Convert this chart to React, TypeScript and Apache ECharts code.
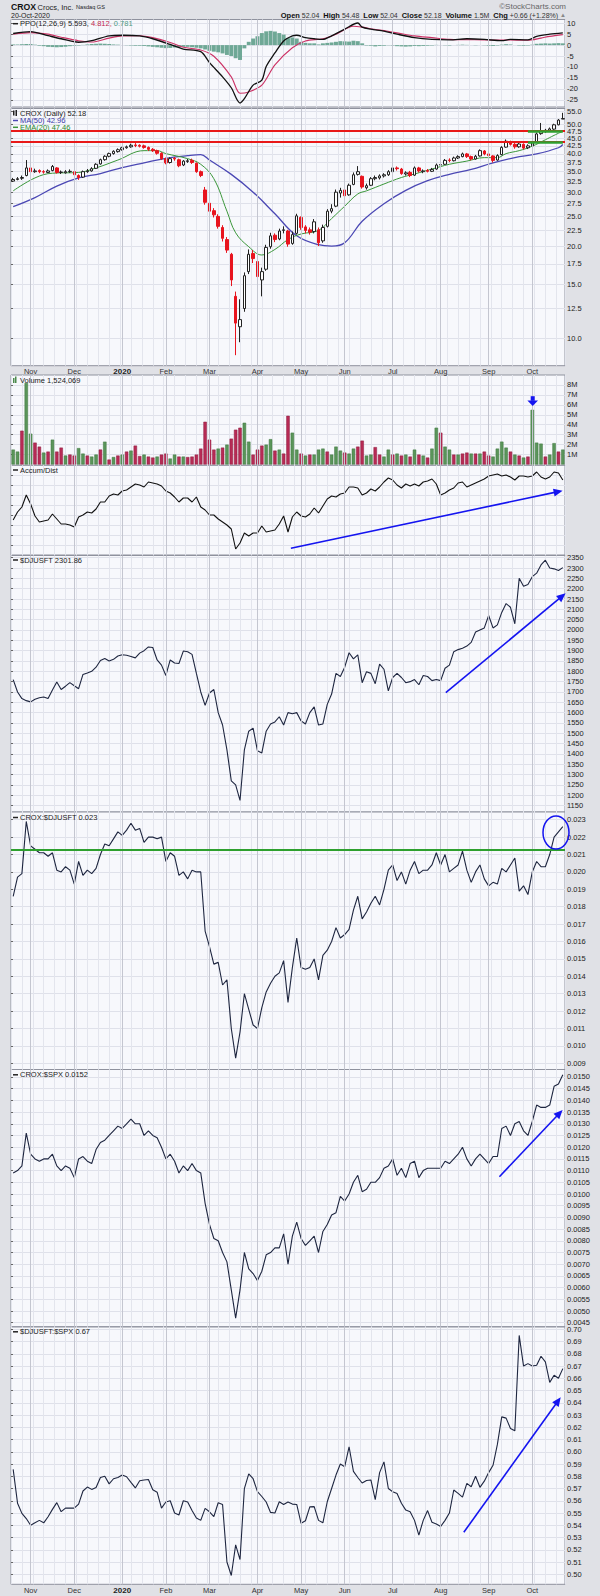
import React, { useEffect, useRef } from "react";
import * as echarts from "echarts";

// ---------- categories (two trading days per bin, 21-Oct-2019 .. 20-Oct-2020) ----------
const binCount = 127;
const categories = Array.from({ length: binCount }, (_, i) => String(i));
const monthTicks: [number, string][] = [
  [4, "Nov"], [14, "Dec"], [25, "2020"], [35, "Feb"], [45, "Mar"], [56, "Apr"],
  [66, "May"], [76, "Jun"], [87, "Jul"], [98, "Aug"], [109, "Sep"], [119, "Oct"],
];

// ---------- PPO(12,26,9) ----------
const ppoPts: [number, number][] = [
  [0, 5.3], [4, 6.2], [8, 4.3], [11, 2.9], [15, 1.3], [18, 2.0], [22, 4.2], [25, 4.5], [29, 4.2], [32, 2.9],
  [36, 0.3], [39, -1.8], [43, -3.0], [45, -8.0], [48, -14.5], [50, -19.5], [52, -26.5], [53, -24.5], [55, -18.3],
  [57, -16.0], [58, -9.8], [60, -3.6], [62, 1.9], [64, 4.2], [65, 4.5], [67, 3.4], [69, 2.9], [71, 2.6], [73, 4.2],
  [76, 7.3], [79, 10.1], [80, 8.2], [82, 7.3], [85, 6.4], [88, 5.0], [92, 3.4], [96, 2.6], [100, 2.4], [104, 2.9],
  [108, 2.6], [112, 2.0], [114, 2.6], [118, 2.4], [120, 4.0], [123, 5.0], [126, 5.6],
];
const signalPts: [number, number][] = [
  [0, 5.0], [4, 5.7], [8, 5.0], [11, 3.6], [15, 2.0], [18, 1.4], [22, 3.2], [25, 4.2], [29, 4.3], [32, 3.4],
  [36, 1.2], [39, -1.0], [43, -2.2], [46, -5.1], [50, -14.5], [52, -22.0], [54, -21.4], [57, -18.3], [60, -9.0],
  [64, -1.2], [67, 1.9], [71, 2.9], [74, 5.0], [78, 8.6], [80, 8.2], [82, 7.5], [85, 6.6], [88, 5.6], [92, 4.2],
  [96, 3.4], [100, 2.6], [108, 2.4], [114, 2.3], [118, 2.2], [121, 3.2], [123, 4.0], [126, 4.8],
];
const ppoHist = [
  0.3, 0.3, 0.4, 0.5, 0.5, 0.2, -0.3, -0.5, -0.8, -0.9,
  -1.0, -0.9, -0.7, -0.5, -0.3, -0.2, 0.1, 0.3, 0.5, 0.6,
  0.7, 0.6, 0.5, 0.3, 0.2, 0.0, -0.1, -0.2, -0.3, -0.3,
  -0.4, -0.6, -0.8, -1.0, -1.2, -1.4, -1.3, -1.1, -0.9, -0.8,
  -0.8, -1.0, -1.2, -1.5, -2.0, -2.6, -3.0, -3.3, -3.8, -4.5,
  -5.0, -6.0, -6.8, -1.5, 1.5, 3.0, 4.0, 5.5, 6.3, 6.5,
  6.2, 5.5, 4.8, 3.2, 3.5, 3.0, 1.5, 1.0, 0.8, 0.8,
  0.3, 0.8, 1.0, 1.2, 1.5, 1.8, 1.7, 1.6, 2.0, 1.8,
  0.8, -0.2, -0.3, -0.6, -0.4, -0.3, -0.1, -0.2, -0.5, -0.6,
  -0.7, -0.6, -0.4, -0.5, -0.4, -0.3, -0.2, 0.1, 0.0, -0.1,
  -0.2, 0.0, 0.1, 0.2, 0.1, 0.0, -0.1, 0.0, -0.1, -0.3,
  -0.4, -0.2, 0.2, 0.4, 0.3, 0.0, -0.2, -0.3, -0.2, 0.2,
  0.6, 0.7, 0.8, 0.7, 0.8, 0.9, 0.8,
];

// ---------- CROX price: [open, close, low, high] ----------
const priceOHLC = [
  [32.6, 33.0, 32.4, 33.4], [33.0, 33.2, 32.8, 33.6], [33.3, 33.5, 32.9, 34.0], [34.0, 36.0, 33.8, 38.2], [36.0, 35.0, 34.6, 36.4],
  [35.0, 35.2, 34.7, 35.8], [35.3, 35.0, 34.6, 35.6], [35.0, 34.9, 34.5, 35.4], [34.8, 35.2, 34.6, 35.6], [35.3, 36.4, 35.1, 36.8],
  [36.0, 34.8, 34.5, 36.2], [34.8, 34.9, 34.4, 35.3], [34.7, 35.0, 34.5, 35.4], [35.0, 35.1, 34.7, 35.6], [35.0, 34.2, 33.9, 35.2],
  [34.0, 33.5, 32.9, 34.3], [33.6, 35.0, 33.4, 35.3], [35.0, 35.2, 34.7, 35.7], [35.2, 35.8, 35.0, 36.2], [35.9, 37.0, 35.7, 37.3],
  [37.1, 38.3, 36.9, 38.6], [38.3, 39.3, 38.0, 39.6], [39.3, 40.1, 39.0, 40.4], [40.1, 40.8, 39.8, 41.1], [40.7, 41.3, 40.4, 41.7],
  [41.3, 41.9, 41.0, 42.2], [41.9, 42.2, 41.6, 42.6], [42.2, 42.7, 41.9, 43.2], [42.8, 42.6, 42.1, 43.4], [42.7, 42.4, 42.0, 43.0],
  [42.5, 42.0, 41.6, 42.9], [42.0, 41.4, 40.9, 42.3], [41.4, 41.0, 40.6, 41.8], [41.0, 40.2, 39.8, 41.3], [40.2, 38.6, 38.2, 40.5],
  [38.6, 37.4, 37.0, 38.9], [37.5, 38.6, 37.2, 39.0], [38.7, 38.5, 38.0, 39.1], [38.3, 36.6, 36.2, 38.6], [36.8, 37.9, 36.5, 38.2],
  [37.8, 38.0, 37.4, 38.5], [38.1, 37.5, 37.1, 38.6], [37.3, 35.0, 34.7, 37.5], [35.0, 34.0, 33.6, 35.3], [30.5, 27.8, 27.3, 31.2],
  [27.6, 26.0, 25.6, 28.2], [26.1, 25.3, 24.8, 26.6], [25.0, 23.2, 22.8, 25.4], [23.0, 21.2, 20.7, 23.4], [21.0, 19.4, 19.0, 21.4],
  [18.8, 15.5, 14.8, 19.0], [13.7, 11.2, 8.8, 14.2], [10.9, 11.5, 9.7, 13.4], [12.5, 16.0, 12.2, 16.4], [16.5, 18.8, 16.2, 19.5],
  [18.9, 18.2, 17.6, 19.4], [17.8, 15.9, 15.5, 18.2], [15.5, 16.5, 13.7, 17.0], [16.8, 19.8, 16.6, 20.2], [19.9, 21.6, 19.6, 22.1],
  [21.7, 21.0, 20.6, 22.0], [21.1, 22.4, 20.9, 22.8], [22.5, 22.6, 22.0, 23.2], [22.4, 20.3, 19.9, 22.6], [20.4, 21.8, 20.2, 22.3],
  [22.0, 25.1, 21.8, 25.5], [24.8, 23.0, 22.6, 25.0], [23.1, 22.5, 22.0, 23.4], [22.6, 22.2, 21.8, 23.0], [22.3, 24.0, 22.0, 24.5],
  [22.6, 20.5, 20.0, 23.0], [20.8, 23.0, 20.5, 23.5], [23.2, 26.0, 23.0, 26.4], [26.0, 26.5, 25.6, 27.4], [27.0, 30.0, 26.8, 30.6],
  [29.8, 30.4, 28.8, 31.0], [30.5, 29.2, 28.5, 30.8], [29.4, 31.6, 29.2, 32.0], [31.8, 34.2, 31.6, 34.8], [34.3, 35.0, 34.0, 36.5],
  [33.8, 31.2, 30.8, 34.0], [31.0, 31.5, 30.6, 32.0], [31.6, 33.2, 31.4, 33.6], [33.2, 33.5, 32.8, 34.0], [33.4, 33.9, 33.0, 34.3],
  [33.9, 34.2, 33.5, 34.6], [34.2, 35.0, 33.9, 35.4], [35.0, 36.0, 34.8, 36.6], [36.0, 35.8, 35.3, 36.4], [35.7, 34.5, 34.2, 36.0],
  [34.4, 34.7, 34.0, 35.1], [34.8, 34.0, 33.6, 35.2], [34.1, 36.0, 33.9, 36.4], [36.0, 35.2, 34.8, 36.3], [35.0, 35.2, 34.6, 35.6],
  [35.3, 35.1, 34.8, 35.7], [35.1, 35.6, 34.9, 36.0], [35.7, 36.8, 35.5, 37.2], [36.8, 36.9, 36.3, 37.6], [37.0, 38.1, 36.8, 38.5],
  [38.2, 38.1, 37.6, 38.7], [38.0, 38.8, 37.8, 39.2], [38.8, 39.2, 38.5, 39.6], [39.2, 40.0, 39.0, 40.4], [40.0, 39.2, 38.8, 40.3],
  [39.2, 38.5, 38.1, 39.5], [38.5, 39.3, 38.3, 39.7], [39.4, 41.0, 39.2, 41.4], [40.9, 40.0, 39.6, 41.2], [40.0, 39.5, 39.1, 40.3],
  [39.4, 38.1, 37.5, 39.6], [38.2, 39.5, 38.0, 39.9], [39.8, 42.0, 39.6, 42.4], [42.1, 44.0, 41.9, 44.6], [43.9, 43.0, 42.6, 44.2],
  [43.0, 42.2, 41.6, 43.4], [42.2, 43.1, 41.9, 43.8], [43.0, 41.8, 41.4, 43.3], [41.9, 42.5, 41.5, 43.0], [42.5, 43.5, 42.2, 44.0],
  [43.6, 46.5, 43.4, 47.0], [46.6, 47.4, 46.2, 50.5], [47.3, 47.8, 46.9, 48.3], [47.8, 48.3, 47.4, 48.8], [48.2, 49.8, 47.9, 50.2],
  [49.8, 51.6, 49.6, 52.0], [52.0, 52.2, 52.0, 54.5],
];
const ma50Pts: [number, number][] = [
  [0, 26.9], [5, 28.8], [10, 31.4], [15, 33.4], [20, 34.5], [25, 36.1], [30, 37.4], [35, 38.7], [40, 39.5], [43, 39.8],
  [45, 38.2], [50, 34.3], [55, 30.0], [60, 25.5], [65, 21.6], [70, 20.2], [73, 20.0], [76, 20.5], [80, 24.1], [85, 27.5],
  [90, 30.4], [95, 32.7], [100, 34.3], [105, 35.6], [110, 37.4], [115, 38.9], [120, 40.0], [125, 41.9], [126, 42.96],
];
const ema20Pts: [number, number][] = [
  [0, 30.3], [5, 33.4], [9, 34.6], [15, 34.8], [19, 36.0], [24, 38.2], [30, 41.0], [33, 41.0], [35, 40.1], [40, 38.6],
  [43, 37.0], [46, 33.2], [49, 26.0], [51, 22.1], [54, 19.9], [57, 18.7], [60, 19.5], [63, 21.0], [66, 21.9], [70, 22.5],
  [73, 24.6], [76, 27.0], [79, 29.6], [81, 30.3], [85, 31.9], [89, 33.5], [92, 34.4], [96, 35.7], [100, 37.0], [104, 37.9],
  [108, 38.9], [111, 38.9], [113, 40.1], [116, 41.0], [119, 42.4], [122, 44.5], [124, 46.0], [126, 47.46],
];
const resistanceLevels = [47.6, 43.8];

// ---------- Volume (millions) and up/down flag ----------
const volumeM = [
  1.5, 1.3, 3.4, 8.2, 3.1, 2.2, 1.8, 1.2, 1.3, 2.5,
  1.3, 1.7, 0.9, 1.0, 0.9, 1.65, 1.1, 0.9, 0.8, 1.0,
  1.5, 2.3, 0.5, 0.75, 0.9, 1.0, 1.3, 1.4, 1.9, 0.85,
  1.0, 0.8, 0.7, 0.8, 1.0, 1.1, 0.6, 1.0, 0.8, 0.8,
  0.75, 0.8, 1.0, 1.6, 4.3, 2.5, 1.5, 1.6, 1.7, 2.0,
  2.6, 3.5, 3.7, 4.2, 2.3, 1.0, 1.5, 1.9, 2.0, 2.55,
  1.4, 1.5, 1.1, 4.9, 3.2, 1.5, 1.1, 0.9, 1.0, 1.0,
  1.5, 1.6, 1.3, 1.0, 1.8, 1.4, 1.2, 1.1, 1.6, 1.8,
  2.4, 0.9, 1.0, 1.75, 1.0, 0.8, 1.5, 1.0, 1.1, 0.9,
  1.0, 0.8, 1.5, 1.0, 0.9, 0.7, 1.6, 3.7, 3.2, 1.8,
  1.5, 1.0, 1.0, 1.1, 1.2, 1.1, 1.1, 1.1, 1.3, 0.9,
  0.8, 1.6, 2.3, 1.7, 1.3, 1.0, 0.9, 0.7, 0.8, 5.5,
  2.2, 2.1, 0.8, 1.0, 2.15, 1.3, 1.5,
];
const volumeUp = [
  1, 1, 0, 1, 1, 0, 0, 1, 0, 1,
  0, 0, 1, 0, 0, 1, 1, 0, 1, 1,
  0, 1, 0, 1, 0, 1, 0, 1, 0, 0,
  1, 0, 0, 1, 0, 0, 1, 1, 0, 1,
  0, 0, 0, 0, 0, 0, 0, 1, 0, 1,
  0, 0, 0, 1, 1, 0, 0, 0, 1, 1,
  0, 1, 0, 0, 1, 1, 0, 1, 0, 1,
  1, 1, 0, 1, 1, 1, 0, 1, 1, 0,
  0, 1, 1, 0, 0, 1, 1, 0, 1, 0,
  1, 0, 1, 0, 1, 0, 1, 1, 0, 1,
  1, 0, 1, 0, 0, 1, 0, 1, 0, 0,
  1, 1, 1, 1, 0, 1, 0, 1, 0, 1,
  1, 1, 0, 1, 1, 0, 1,
];

// ---------- Accumulation / Distribution (relative units) ----------
const accumDist = [
  35, 43, 48, 60, 51, 39, 33, 34, 35, 41,
  36, 31, 31, 30, 28, 38, 40, 43, 42, 46,
  53, 53, 59, 61, 60, 64, 65, 68, 71, 70,
  68, 73, 72, 71, 69, 64, 62, 58, 53, 57,
  57, 53, 58, 48, 45, 40, 40, 36, 33, 30,
  26, 6, 12, 22, 19, 22, 22, 29, 23, 24,
  25, 31, 39, 23, 38, 43, 39, 38, 41, 47,
  42, 49, 56, 59, 58, 61, 62, 68, 68, 67,
  60, 62, 66, 64, 68, 73, 77, 75, 70, 67,
  71, 69, 71, 69, 73, 74, 76, 71, 60, 62,
  65, 67, 72, 73, 68, 70, 72, 74, 76, 79,
  80, 81, 79, 80, 78, 75, 79, 79, 78, 79,
  83, 78, 76, 78, 83, 82, 75,
];

// ---------- $DJUSFT ----------
const djusft = [
  1760, 1700, 1668, 1658, 1652, 1665, 1672, 1676, 1668, 1710,
  1748, 1712, 1728, 1745, 1730, 1716, 1785, 1792, 1800, 1820,
  1852, 1862, 1850, 1858, 1874, 1880, 1878, 1872, 1865, 1888,
  1900, 1918, 1915, 1855, 1830, 1780, 1855, 1840, 1838, 1898,
  1895, 1882, 1790, 1700, 1635, 1695, 1712, 1600, 1540, 1420,
  1270, 1250, 1175, 1420, 1510, 1525, 1415, 1405, 1510, 1545,
  1555, 1580, 1540, 1600, 1595, 1600, 1560, 1545, 1600, 1628,
  1540, 1545, 1640, 1690, 1790, 1775, 1820, 1890, 1860, 1880,
  1745, 1798, 1790, 1740, 1835, 1810, 1705, 1770, 1790, 1770,
  1745, 1750, 1760, 1735, 1780, 1775, 1755, 1760, 1755, 1815,
  1830, 1895, 1905, 1912, 1922, 1940, 1990, 2000, 2010, 2070,
  2010, 2025, 2085, 2128, 2110, 2030, 2250, 2212, 2220, 2258,
  2275, 2315, 2338, 2300, 2296, 2288, 2302,
];

// ---------- CROX:$DJUSFT ----------
const croxDjusft = [
  0.0186, 0.0197, 0.0199, 0.0229, 0.0215, 0.0213, 0.0211, 0.0211, 0.0209, 0.0211,
  0.0201, 0.0200, 0.0203, 0.0201, 0.0193, 0.0206, 0.0198, 0.0201, 0.0199, 0.0202,
  0.0210, 0.0216, 0.0215, 0.0219, 0.0223, 0.0221, 0.0224, 0.0228, 0.0224, 0.0225,
  0.0217, 0.0220, 0.0220, 0.0219, 0.0220, 0.0206, 0.0211, 0.0209, 0.0198, 0.0200,
  0.0196, 0.0201, 0.0200, 0.0200, 0.0166, 0.0157, 0.0147, 0.0148, 0.0135, 0.0138,
  0.0110, 0.0093, 0.0108, 0.0130, 0.0121, 0.0112, 0.0110, 0.0122, 0.0131, 0.0136,
  0.0140, 0.0142, 0.0149, 0.0125, 0.0145, 0.0162, 0.0145, 0.0144, 0.0145, 0.0150,
  0.0138, 0.0152, 0.0155, 0.0160, 0.0168, 0.0162, 0.0164, 0.0167, 0.0178, 0.0186,
  0.0173, 0.0177, 0.0182, 0.0186, 0.0181, 0.0190, 0.0201, 0.0204, 0.0195, 0.0200,
  0.0193, 0.0201, 0.0206, 0.0199, 0.0201, 0.0201, 0.0204, 0.0211, 0.0204, 0.0210,
  0.0200, 0.0202, 0.0204, 0.0212, 0.0201, 0.0194, 0.0200, 0.0204, 0.0196, 0.0192,
  0.0194, 0.0193, 0.0202, 0.0200, 0.0204, 0.0208, 0.0189, 0.0192, 0.0187, 0.0200,
  0.0206, 0.0203, 0.0203, 0.0210, 0.0220, 0.0223, 0.0226,
];
const croxDjusftLevel = 0.0213;

// ---------- CROX:$SPX ----------
const croxSpx = [
  0.0109, 0.0110, 0.0112, 0.0126, 0.0117, 0.0115, 0.0114, 0.0115, 0.0115, 0.0117,
  0.0112, 0.0110, 0.0112, 0.0111, 0.0107, 0.0115, 0.0116, 0.0114, 0.0113, 0.0119,
  0.0122, 0.0123, 0.0125, 0.0127, 0.0129, 0.0128, 0.0130, 0.0132, 0.0130, 0.0130,
  0.0125, 0.0127, 0.0125, 0.0124, 0.0120, 0.0115, 0.0117, 0.0114, 0.0109, 0.0112,
  0.0110, 0.0113, 0.0110, 0.0109, 0.0096, 0.0087, 0.0081, 0.0080, 0.0075, 0.0071,
  0.0059, 0.0047, 0.0059, 0.0075, 0.0068, 0.0066, 0.0063, 0.0067, 0.0074, 0.0075,
  0.0077, 0.0077, 0.0083, 0.0070, 0.0082, 0.0088, 0.0081, 0.0078, 0.0080, 0.0082,
  0.0075, 0.0084, 0.0087, 0.0091, 0.0092, 0.0099, 0.0097, 0.0100, 0.0105, 0.0108,
  0.0101, 0.0102, 0.0105, 0.0105, 0.0107, 0.0111, 0.0112, 0.0115, 0.0108, 0.0111,
  0.0107, 0.0113, 0.0114, 0.0107, 0.0110, 0.0111, 0.0111, 0.0111, 0.0111, 0.0114,
  0.0113, 0.0115, 0.0117, 0.0120, 0.0115, 0.0112, 0.0115, 0.0117, 0.0115, 0.0113,
  0.0116, 0.0116, 0.0128, 0.0129, 0.0125, 0.0130, 0.0131, 0.0127, 0.0125, 0.0131,
  0.0138, 0.0137, 0.0137, 0.0138, 0.0146, 0.0147, 0.0151,
];

// ---------- $DJUSFT:$SPX ----------
const djusftSpx = [
  0.5856, 0.5580, 0.5497, 0.5455, 0.5400, 0.5420, 0.5440, 0.5420, 0.5470, 0.5530,
  0.5585, 0.5511, 0.5540, 0.5540, 0.5540, 0.5573, 0.5680, 0.5712, 0.5693, 0.5709,
  0.5790, 0.5800, 0.5738, 0.5780, 0.5790, 0.5810, 0.5796, 0.5750, 0.5705, 0.5764,
  0.5770, 0.5774, 0.5690, 0.5670, 0.5540, 0.5590, 0.5600, 0.5500, 0.5484, 0.5600,
  0.5590, 0.5520, 0.5460, 0.5440, 0.5538, 0.5510, 0.5470, 0.5584, 0.5570, 0.5100,
  0.4990, 0.5240, 0.5120, 0.5700, 0.5820, 0.5780, 0.5675, 0.5635, 0.5590, 0.5505,
  0.5500, 0.5592, 0.5570, 0.5590, 0.5573, 0.5570, 0.5416, 0.5437, 0.5550, 0.5552,
  0.5440, 0.5420, 0.5592, 0.5700, 0.5810, 0.5900, 0.5878, 0.6041, 0.5840, 0.5790,
  0.5745, 0.5765, 0.5770, 0.5610, 0.5830, 0.5918, 0.5700, 0.5674, 0.5660, 0.5580,
  0.5524, 0.5511, 0.5440, 0.5320, 0.5440, 0.5520, 0.5425, 0.5410, 0.5390, 0.5440,
  0.5500, 0.5688, 0.5660, 0.5630, 0.5742, 0.5715, 0.5800, 0.5710, 0.5760, 0.5830,
  0.5890, 0.6060, 0.6285, 0.6275, 0.6190, 0.6171, 0.6950, 0.6700, 0.6720, 0.6700,
  0.6706, 0.6780, 0.6734, 0.6567, 0.6625, 0.6600, 0.6679,
];

// ---------- tick labels ----------
const ppoTicks = [10, 5, 0, -5, -10, -15, -20, -25];
const priceTicks = [10, 12.5, 15, 17.5, 20, 22.5, 25, 27.5, 30, 32.5, 35, 37.5, 40, 42.5, 45, 47.5, 50, 52.5, 55];
const volumeTicks = [1, 2, 3, 4, 5, 6, 7, 8];
const adTicks = [10, 20, 30, 40, 50, 60, 70, 80];
const djusftTicks = [1150, 1200, 1250, 1300, 1350, 1400, 1450, 1500, 1550, 1600, 1650, 1700, 1750, 1800, 1850, 1900, 1950, 2000, 2050, 2100, 2150, 2200, 2250, 2300, 2350];
const croxDjusftTicks = [0.009, 0.010, 0.011, 0.012, 0.013, 0.014, 0.015, 0.016, 0.017, 0.018, 0.019, 0.020, 0.021, 0.022, 0.023];
const croxSpxTicks = [0.0045, 0.0050, 0.0055, 0.0060, 0.0065, 0.0070, 0.0075, 0.0080, 0.0085, 0.0090, 0.0095, 0.0100, 0.0105, 0.0110, 0.0115, 0.0120, 0.0125, 0.0130, 0.0135, 0.0140, 0.0145, 0.0150];
const djusftSpxTicks = [0.50, 0.51, 0.52, 0.53, 0.54, 0.55, 0.56, 0.57, 0.58, 0.59, 0.60, 0.61, 0.62, 0.63, 0.64, 0.65, 0.66, 0.67, 0.68, 0.69, 0.70];

const FF = '"Liberation Sans", Arial, sans-serif';
const BLUE = "#1414f0";

function arrow(x1: number, y1: number, x2: number, y2: number) {
  const dx = x2 - x1, dy = y2 - y1;
  const len = Math.hypot(dx, dy);
  const ux = dx / len, uy = dy / len;
  const hl = 9, hw = 4;
  const bx = x2 - ux * hl, by = y2 - uy * hl;
  return [
    { type: "line", z: 50, shape: { x1, y1, x2: bx + ux * 1, y2: by + uy * 1 }, style: { stroke: BLUE, lineWidth: 1.6 } },
    { type: "polygon", z: 50, shape: { points: [[x2, y2], [bx - uy * hw, by + ux * hw], [bx + uy * hw, by - ux * hw]] }, style: { fill: BLUE } },
  ];
}

function legend(x: number, y: number, text: string, rich: any = {}, marker = "line", markerColor = "#222") {
  const els: any[] = [];
  if (marker === "line") {
    els.push({ type: "rect", z: 60, shape: { x: x, y: y - 0.75, width: 5, height: 1.5 }, style: { fill: markerColor } });
  } else if (marker === "bars") {
    els.push({ type: "rect", z: 60, shape: { x: x, y: y - 2, width: 1.5, height: 5 }, style: { fill: "#4c8a4c" } });
    els.push({ type: "rect", z: 60, shape: { x: x + 2, y: y - 3.5, width: 1.5, height: 6.5 }, style: { fill: "#4c8a4c" } });
  } else if (marker === "candle") {
    els.push({ type: "rect", z: 60, shape: { x: x, y: y - 3, width: 1.5, height: 5 }, style: { fill: "#222" } });
    els.push({ type: "rect", z: 60, shape: { x: x + 2.5, y: y - 3.5, width: 1.5, height: 6 }, style: { fill: "#222" } });
  }
  els.push({
    type: "text", z: 60, x: x + 7, y,
    style: { text, fontSize: 7.5, fontFamily: FF, fill: "#222", verticalAlign: "middle", rich },
  });
  return els;
}

const panels = [
  { top: 19.5, height: 87.5 },
  { top: 108.5, height: 257.2 },
  { top: 375, height: 90.3 },
  { top: 465.3, height: 89.7 },
  { top: 555.5, height: 256.5 },
  { top: 812, height: 257.5 },
  { top: 1069.5, height: 257.2 },
  { top: 1327, height: 257.3 },
];

export default function App() {
  const ref = useRef<HTMLDivElement>(null);
  useEffect(() => {
    document.body.style.margin = "0";
    if (!ref.current) return;
    const chart = echarts.init(ref.current, null, { renderer: "svg" });

    const monthIdx = monthTicks.map((m) => m[0]);
    const monthName: Record<number, string> = {};
    monthTicks.forEach(([i, n]) => (monthName[i] = n));

    const grids = panels.map((p) => ({
      left: 11, width: 554, top: p.top, height: p.height,
      show: true, backgroundColor: "#f7f8fc", borderColor: "#8f929e", borderWidth: 1,
    }));

    const catAxes = panels.map((_, i) => {
      const showLabels = i === 1 || i === 7;
      return {
        type: "category", gridIndex: i, data: categories, boundaryGap: true,
        axisLine: { show: false }, axisTick: { show: false }, splitLine: { show: false },
        axisLabel: {
          show: showLabels,
          interval: (idx: number) => monthIdx.includes(idx),
          formatter: (_v: string, idx: number) => (monthName[idx] === "2020" ? "{b|2020}" : monthName[idx] || ""),
          rich: { b: { fontWeight: "bold", fontSize: 8, fontFamily: FF, color: "#222" } },
          fontSize: 7.5, fontFamily: FF, color: "#333", margin: 2,
        },
      };
    });
    const weekAxes = panels.map((_, i) => ({
      type: "value", gridIndex: i, position: "top", min: 0, max: binCount, interval: 2.5,
      axisLine: { show: false }, axisTick: { show: false }, axisLabel: { show: false },
      splitLine: { show: true, lineStyle: { color: "#e3e5ed", width: 1 } },
    }));

    const yAx = (i: number, cfg: any) => ({
      gridIndex: i, position: "right", scale: true,
      axisLine: { show: false },
      axisTick: { show: true, length: 2, lineStyle: { color: "#666" }, customValues: cfg.ticks },
      splitLine: { show: true, lineStyle: { color: "#dfe1ea", width: 1 } },
      axisLabel: {
        show: cfg.labels !== false, customValues: cfg.ticks, formatter: cfg.fmt,
        showMinLabel: true, showMaxLabel: true, hideOverlap: false,
        fontSize: 7.5, fontFamily: FF, color: "#222", margin: 2,
      },
      ...cfg.extra,
    });

    const yAxes = [
      yAx(0, { ticks: ppoTicks, fmt: (v: number) => String(v), extra: { type: "value", min: -28.3, max: 11.7 } }),
      yAx(1, { ticks: priceTicks, fmt: (v: number) => v.toFixed(1), extra: { type: "log", logBase: 10, min: 8.13, max: 56.3 } }),
      yAx(2, { ticks: volumeTicks, fmt: (v: number) => v + "M", extra: { type: "value", min: -0.08, max: 9.0 } }),
      yAx(3, { ticks: adTicks, labels: false, fmt: (v: number) => "", extra: { type: "value", min: 0, max: 89.7 } }),
      yAx(4, { ticks: djusftTicks, fmt: (v: number) => String(v), extra: { type: "value", min: 1119, max: 2360.6 } }),
      yAx(5, { ticks: croxDjusftTicks, fmt: (v: number) => v.toFixed(3), extra: { type: "value", min: 0.008643, max: 0.023444 } }),
      yAx(6, { ticks: croxSpxTicks, fmt: (v: number) => v.toFixed(4), extra: { type: "value", min: 0.00433, max: 0.01532 } }),
      yAx(7, { ticks: djusftSpxTicks, fmt: (v: number) => v.toFixed(2), extra: { type: "value", min: 0.4918, max: 0.7019 } }),
    ];

    const monthLineSeries = panels.map((_, i) => ({
      type: "line", xAxisIndex: i, yAxisIndex: i, data: [], z: 1, silent: true,
      markLine: {
        silent: true, symbol: "none", label: { show: false }, animation: false,
        lineStyle: { color: "#c4c6d0", width: 1, type: "solid" },
        data: monthIdx.map((m) => ({ xAxis: m })),
      },
    }));

    const lineS = (i: number, data: any[], color: string, width = 1.1, extra: any = {}) => ({
      type: "line", xAxisIndex: i, yAxisIndex: i, data, showSymbol: false, symbol: "none",
      lineStyle: { color, width }, z: 3, ...extra,
    });

    const series: any[] = [
      ...monthLineSeries,
      // PPO
      {
        type: "bar", xAxisIndex: 0, yAxisIndex: 0, data: ppoHist, barCategoryGap: "10%",
        itemStyle: { color: "#6fa896" }, z: 2,
      },
      lineS(0, signalPts, "#cc3366", 1.1, { smooth: 0.3 }),
      lineS(0, ppoPts, "#111111", 1.3, { smooth: 0.3 }),
      // price
      {
        type: "candlestick", xAxisIndex: 1, yAxisIndex: 1, data: priceOHLC, barWidth: 3, z: 3,
        itemStyle: { color: "#ffffff", color0: "#e8141e", borderColor: "#222222", borderColor0: "#e8141e", borderWidth: 1 },
        markLine: {
          silent: true, symbol: "none", label: { show: false }, animation: false, precision: 6,
          data: [
            ...resistanceLevels.map((v) => ({ yAxis: v, lineStyle: { color: "#e81818", width: 2, type: "solid" } })),
            ...resistanceLevels.map((v) => [
              { coord: [118, v], lineStyle: { color: "#2ea02e", width: 2.5, type: "solid" } },
              { coord: [126, v] },
            ]),
          ],
        },
      },
      lineS(1, ma50Pts, "#4b48b4", 1.3, { smooth: 0.4 }),
      lineS(1, ema20Pts, "#3a963a", 1.0, { smooth: 0.4 }),
      // volume
      {
        type: "bar", xAxisIndex: 2, yAxisIndex: 2, barCategoryGap: "22%", z: 3,
        data: volumeM.map((v, i) => ({
          value: v,
          itemStyle: { color: volumeUp[i] ? "#5a955a" : "#b72b55", borderColor: volumeUp[i] ? "#3e763e" : "#8e1d3e", borderWidth: 0.5 },
        })),
      },
      // A/D
      lineS(3, accumDist, "#111111", 1.1),
      // DJUSFT
      lineS(4, djusft, "#1e2640", 1.1),
      // CROX:DJUSFT
      {
        ...lineS(5, croxDjusft, "#1e2640", 1.1),
        markLine: {
          silent: true, symbol: "none", label: { show: false }, animation: false, precision: 6,
          data: [{ yAxis: croxDjusftLevel }],
          lineStyle: { color: "#2ea02e", width: 2, type: "solid" },
        },
      },
      lineS(6, croxSpx, "#1e2640", 1.1),
      lineS(7, djusftSpx, "#1e2640", 1.1),
    ];

    const graphics: any[] = [
      // header
      { type: "text", x: 11, y: 6.5, style: { text: "CROX", fontSize: 8.7, fontWeight: "bold", fontFamily: FF, fill: "#111", verticalAlign: "middle" } },
      { type: "text", x: 37.5, y: 7, style: { text: "Crocs, Inc.", fontSize: 7.5, fontFamily: FF, fill: "#222", verticalAlign: "middle" } },
      { type: "text", x: 76, y: 7.3, style: { text: "Nasdaq GS", fontSize: 5.6, fontFamily: FF, fill: "#222", verticalAlign: "middle" } },
      { type: "text", x: 11, y: 15, style: { text: "20-Oct-2020", fontSize: 7, fontFamily: FF, fill: "#222", verticalAlign: "middle" } },
      { type: "text", x: 566, y: 6, style: { text: "©StockCharts.com", fontSize: 8, fontFamily: FF, fill: "#666", align: "right", verticalAlign: "middle" } },
      {
        type: "text", x: 566, y: 15.3,
        style: {
          text: "{b|Open} 52.04  {b|High} 54.48  {b|Low} 52.04  {b|Close} 52.18  {b|Volume} 1.5M  {b|Chg} +0.66 (+1.28%) {g|▲}",
          fontSize: 7, fontFamily: FF, fill: "#333", align: "right", verticalAlign: "middle",
          rich: { b: { fontWeight: "bold", fontSize: 7.5, fontFamily: FF, fill: "#111" }, g: { fontSize: 6, fill: "#888" } },
        },
      },
      // legends
      ...legend(13, 23.7, "{k|PPO(12,26,9) 5.593,} {r|4.812,} {t|0.781}", {
        k: { fill: "#222", fontSize: 7.5, fontFamily: FF }, r: { fill: "#c0284f", fontSize: 7.5, fontFamily: FF }, t: { fill: "#4f9a85", fontSize: 7.5, fontFamily: FF },
      }),
      ...legend(13, 113.5, "CROX (Daily) 52.18", {}, "candle"),
      ...legend(13, 120.5, "{m|MA(50) 42.96}", { m: { fill: "#3a38a8", fontSize: 7.5, fontFamily: FF } }, "line", "#4b48b4"),
      ...legend(13, 127.3, "{m|EMA(20) 47.46}", { m: { fill: "#2e8a2e", fontSize: 7.5, fontFamily: FF } }, "line", "#3a963a"),
      ...legend(13, 380, "Volume 1,524,069", {}, "bars"),
      ...legend(13, 470, "Accum/Dist"),
      ...legend(13, 560, "$DJUSFT 2301.86"),
      ...legend(13, 817.5, "CROX:$DJUSFT 0.023"),
      ...legend(13, 1074.8, "CROX:$SPX 0.0152"),
      ...legend(13, 1331.8, "$DJUSFT:$SPX 0.67"),
      // annotations
      ...arrow(290.9, 548.3, 562.6, 490.7),
      ...arrow(445.8, 692.7, 565.6, 593.3),
      ...arrow(499.4, 1176.7, 562.6, 1110),
      ...arrow(463.8, 1532.3, 560.7, 1397.3),
      { type: "rect", z: 50, shape: { x: 530.7, y: 396.2, width: 4, height: 4.6 }, style: { fill: BLUE } },
      { type: "polygon", z: 50, shape: { points: [[527.4, 400.6], [538, 400.6], [532.7, 406]] }, style: { fill: BLUE } },
      { type: "ellipse", z: 50, shape: { cx: 556, cy: 832.5, rx: 13, ry: 16.5 }, style: { fill: "none", stroke: BLUE, lineWidth: 1.5 } },
    ];

    chart.setOption({
      animation: false,
      backgroundColor: "#e0e1e6",
      grid: grids,
      xAxis: [...catAxes, ...weekAxes],
      yAxis: yAxes,
      series,
      graphic: graphics,
    });
    return () => chart.dispose();
  }, []);
  return <div ref={ref} style={{ width: 600, height: 1596 }} />;
}
